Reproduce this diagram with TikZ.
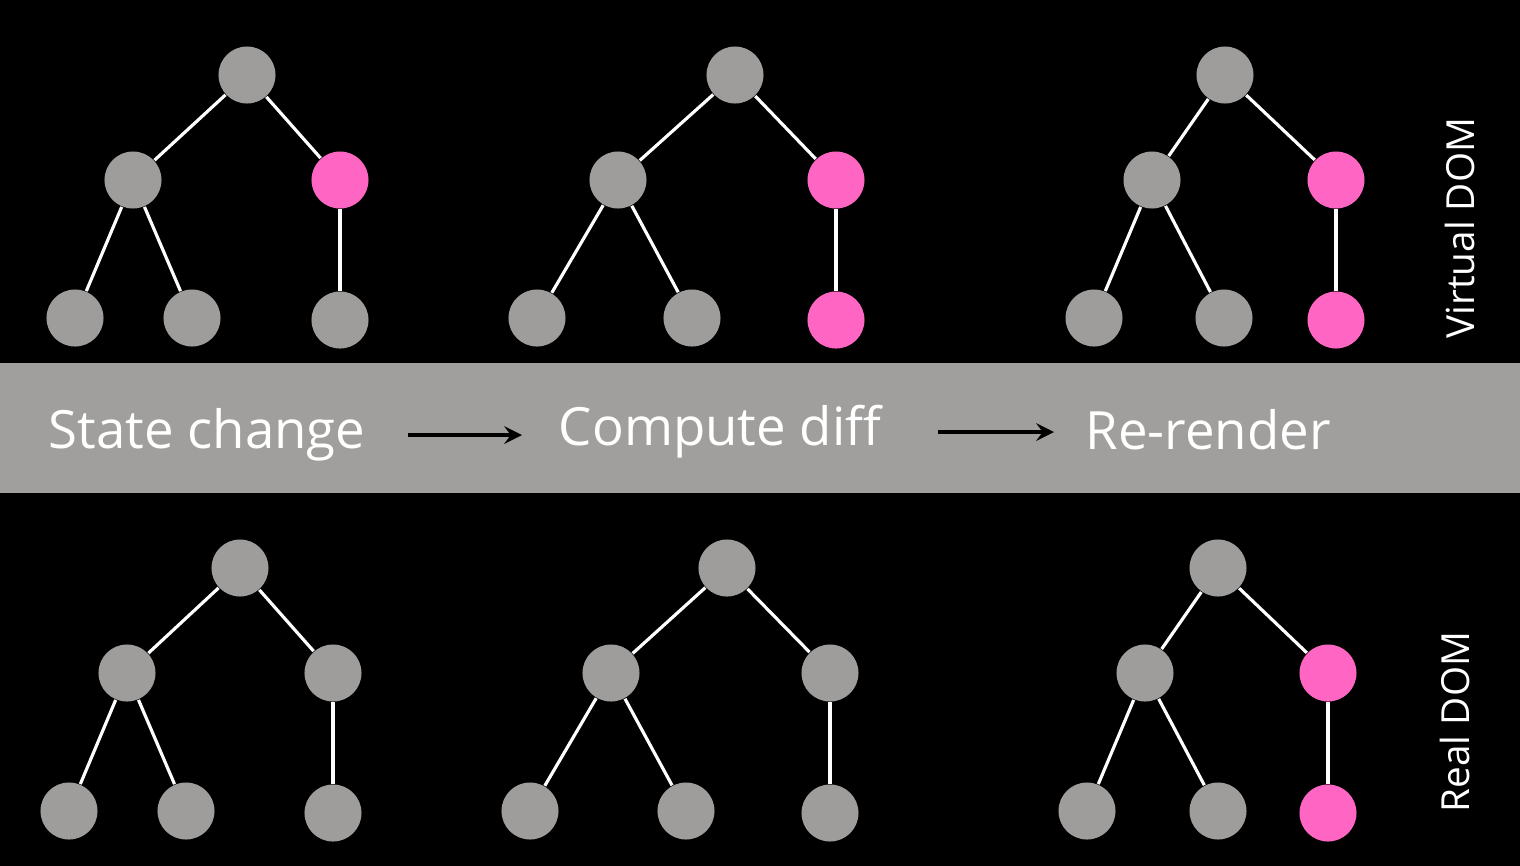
\documentclass[tikz,border=0pt]{standalone}
\usepackage{fontspec}
\setmainfont{Open Sans}
\definecolor{dotgray}{HTML}{9E9D9B}
\definecolor{bandgray}{HTML}{A09F9D}
\definecolor{dotpink}{HTML}{FF66C4}
\tikzset{
  dot/.style={circle,fill=dotgray,minimum size=0.57cm,inner sep=0pt},
  hot/.style={dot,fill=dotpink},
  edge/.style={white,line width=0.9pt},
  stage/.style={white,font=\fontsize{15}{18}\selectfont},
  side/.style={white,rotate=90,font=\fontsize{11}{13}\selectfont}
}
\begin{document}
\begin{tikzpicture}[x=0.01cm,y=-0.01cm]
    \fill[black] (0,0) rectangle (1520,866);
    \fill[bandgray] (0,363) rectangle (1520,493);

    % Trees: root x, left x, right x, leaf1 x, leaf2 x, top y, style right, style leaf3
    \foreach \n/\rx/\lx/\ox/\ax/\bx/\ty/\rs/\cs in {
        a/247/133/340/75/192/75/hot/dot,
        b/735/618/836/537/692/75/hot/hot,
        c/1225/1152/1336/1094/1224/75/hot/hot,
        d/240/127/333/69/186/568/dot/dot,
        e/727/611/830/530/686/568/dot/dot,
        f/1218/1145/1328/1087/1218/568/hot/hot}{
      \node[dot] (\n0) at (\rx,\ty) {};
      \node[dot] (\n1) at (\lx,\ty+105) {};
      \node[\rs] (\n2) at (\ox,\ty+105) {};
      \node[dot] (\n3) at (\ax,\ty+243) {};
      \node[dot] (\n4) at (\bx,\ty+243) {};
      \node[\cs] (\n5) at (\ox,\ty+245) {};
      \draw[edge] (\n0) -- (\n1);
      \draw[edge] (\n0) -- (\n2);
      \draw[edge] (\n1) -- (\n3);
      \draw[edge] (\n1) -- (\n4);
      \draw[edge] (\n2) -- (\n5);
    }

    % Stages
    \node[stage] (state) at (207,435) {State change};
    \node[stage] (diff) at (720,432) {Compute diff};
    \node[stage] (render) at (1208,430) {Re-render};
    \coordinate (s1) at (408,435);
    \coordinate (s2) at (522,435);
    \coordinate (d1) at (938,432);
    \coordinate (d2) at (1054,432);
    \draw[black,line width=1.2pt,-stealth] (s1) -- (s2);
    \draw[black,line width=1.2pt,-stealth] (d1) -- (d2);

    % Side labels
    \node[side] (virtual) at (1460,228) {Virtual DOM};
    \node[side] (real) at (1455,722) {Real DOM};
\end{tikzpicture}
\end{document}
